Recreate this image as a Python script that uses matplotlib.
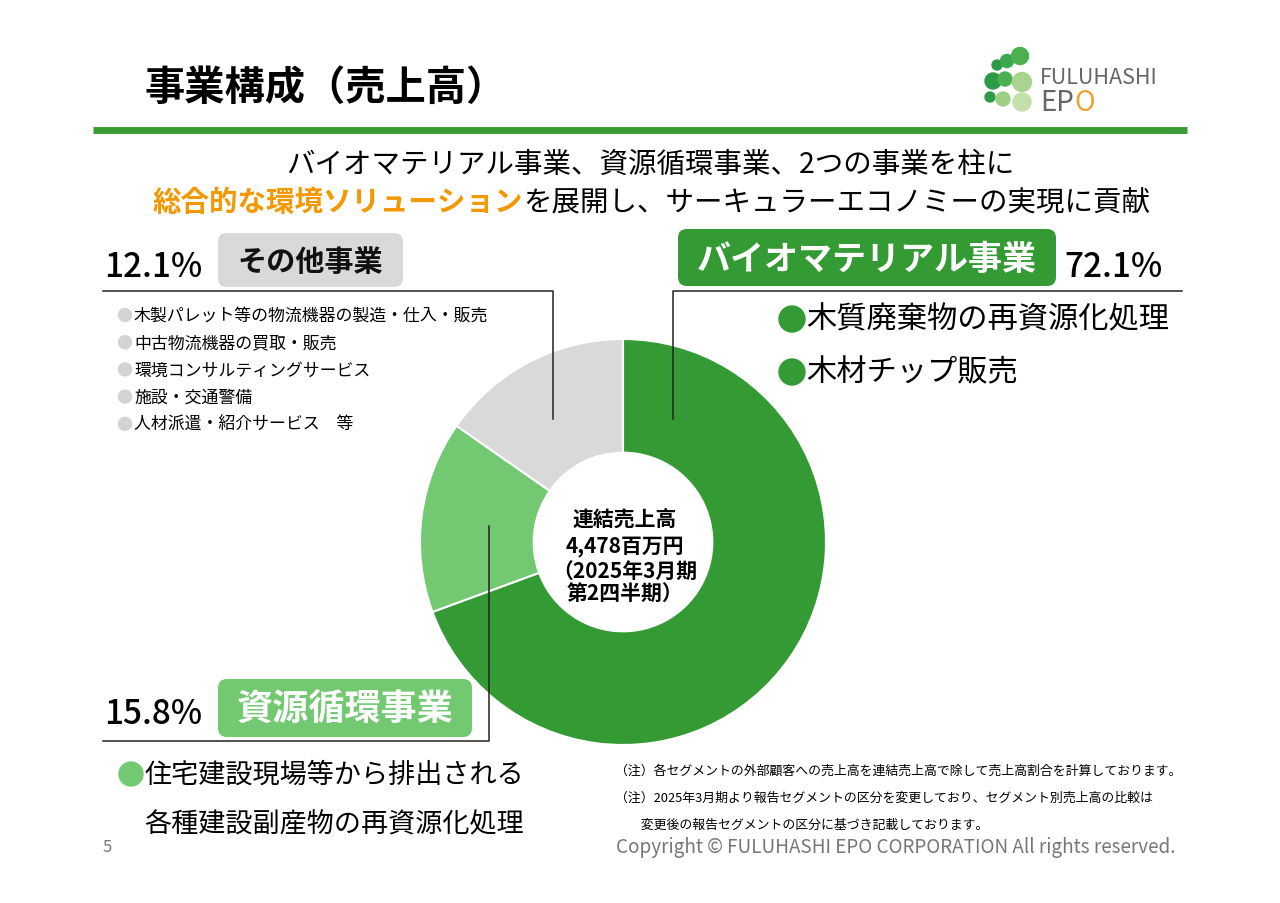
import matplotlib
matplotlib.use('Agg')
import matplotlib.pyplot as plt
from matplotlib.patches import FancyBboxPatch, Circle

plt.rcParams['font.family'] = ['Noto Sans CJK JP', 'DejaVu Sans']

# data
segments = ['バイオマテリアル事業', '資源循環事業', 'その他事業']
share_labels = ['72.1%', '15.8%', '12.1%']
# wedge sizes as drawn in the picture (the drawn ring doesn't match the printed % exactly)
wedge_share = [69.4, 15.3, 15.3]
colors = ['#349a34', '#72c972', '#d9d9d9']

bio_items = ['木質廃棄物の再資源化処理', '木材チップ販売']
recycle_items = ['住宅建設現場等から排出される', '各種建設副産物の再資源化処理']
other_items = ['木製パレット等の物流機器の製造・仕入・販売', '中古物流機器の買取・販売',
               '環境コンサルティングサービス', '施設・交通警備', '人材派遣・紹介サービス　等']
notes = ['（注）各セグメントの外部顧客への売上高を連結売上高で除して売上高割合を計算しております。',
         '（注）2025年3月期より報告セグメントの区分を変更しており、セグメント別売上高の比較は',
         '　　変更後の報告セグメントの区分に基づき記載しております。']
center_lines = ['連結売上高', '4,478百万円', '（2025年3月期', '第2四半期）']

W, H = 1280, 904
fig = plt.figure(figsize=(12.8, 9.04), dpi=100)
fig.patch.set_facecolor('white')

# donut
cx, cy, R = 623, 543, 203
pax = fig.add_axes([(cx - R) / W, (H - cy - R) / H, 2 * R / W, 2 * R / H])
pax.pie(wedge_share, colors=colors, startangle=90, counterclock=False, radius=1,
        wedgeprops=dict(width=0.56, edgecolor='white', linewidth=1.5))
pax.set_xlim(-1, 1)
pax.set_ylim(-1, 1)
pax.set_aspect('equal')
pax.axis('off')

# overlay axes in pixel coords
ax = fig.add_axes([0, 0, 1, 1], zorder=5)
ax.set_xlim(0, W)
ax.set_ylim(H, 0)
ax.axis('off')
ax.patch.set_alpha(0)

# title + rule
ax.text(145, 88, '事業構成（売上高）', fontsize=29, fontweight='bold', va='center', ha='left')
ax.plot([93, 1187], [131, 131], color='#3d9b35', lw=5, solid_capstyle='butt')

# logo
logo = [(997, 66, 5, '#2f9a45'), (1007, 62, 6.5, '#3aa84c'), (1020, 57, 8.5, '#4cb050'),
        (993, 82, 8, '#2f9a45'), (1005, 80, 7, '#4cb050'), (1022, 83, 9.5, '#a8d48e'),
        (990, 98, 5, '#2f9a45'), (1003, 100, 7, '#9fcf85'), (1022, 103, 9, '#c3e0ab')]
for x, y, r, c in logo:
    ax.add_patch(Circle((x, y), r, color=c, zorder=2))
ax.text(1040, 78, 'FULUHASHI', fontsize=15.5, color='#666666', va='center', ha='left')
ep = ax.text(1040, 103, 'EP', fontsize=20, color='#666666', va='center', ha='left')
ax.annotate('O', xycoords=ep, xy=(1, 0.5), fontsize=20, color='#f0a030',
            va='center', ha='left')

# headline
ax.text(650, 165, 'バイオマテリアル事業、資源循環事業、2つの事業を柱に',
        fontsize=20.5, ha='center', va='center')
t1 = ax.text(153, 203, '総合的な環境ソリューション', fontsize=20.5, fontweight='bold',
             color='#f39800', ha='left', va='center')
ax.annotate('を展開し、サーキュラーエコノミーの実現に貢献', xycoords=t1, xy=(1, 0.5),
            fontsize=20.5, ha='left', va='center')

def box(x0, y0, w, h, color, label, fs, tcolor):
    ax.add_patch(FancyBboxPatch((x0, y0), w, h, boxstyle='round,pad=0,rounding_size=9',
                                fc=color, ec='none'))
    ax.text(x0 + w / 2, y0 + h / 2 + 1, label, fontsize=fs, fontweight='bold',
            color=tcolor, ha='center', va='center')

# その他事業
ax.text(104, 268, share_labels[2], fontsize=24, fontweight='medium', ha='left', va='center')
box(218, 234, 185, 54, colors[2], segments[2], 21, '#111111')
ax.plot([103, 553, 553], [292, 292, 420], color='#222222', lw=1.1)
for i, item in enumerate(other_items):
    y = 316 + i * 27.2
    ax.add_patch(Circle((125, y), 6.5, color='#d3d3d3'))
    ax.text(134, y, item, fontsize=12.2, ha='left', va='center')

# バイオマテリアル事業
box(678, 230, 378, 57, colors[0], segments[0], 24.5, 'white')
ax.text(1064, 268, share_labels[0], fontsize=24, fontweight='medium', ha='left', va='center')
ax.plot([1182, 673, 673], [292, 292, 420], color='#222222', lw=1.1)
for i, item in enumerate(bio_items):
    y = 320 + i * 53
    ax.add_patch(Circle((792, y), 13, color=colors[0]))
    ax.text(806, y, item, fontsize=21.8, ha='left', va='center')

# 資源循環事業
ax.text(104, 715, share_labels[1], fontsize=24, fontweight='medium', ha='left', va='center')
box(218, 680, 254, 58, colors[1], segments[1], 26, 'white')
ax.plot([103, 489, 489], [742, 742, 527], color='#222222', lw=1.1)
ax.add_patch(Circle((131, 775), 12, color=colors[1]))
ax.text(144, 775, recycle_items[0], fontsize=19.5, ha='left', va='center')
ax.text(144, 825, recycle_items[1], fontsize=19.5, ha='left', va='center')

# centre label
center_y = [520, 547, 572, 594]
for line, y in zip(center_lines, center_y):
    ax.text(cx + 2, y, line, fontsize=15, fontweight='bold', ha='center', va='center')

# notes + footer
for i, n in enumerate(notes):
    ax.text(615, 771 + i * 27, n, fontsize=9.3, ha='left', va='center')
ax.text(103, 848, '5', fontsize=12, color='#777777', ha='left', va='center')
ax.text(1175, 848, 'Copyright © FULUHASHI EPO CORPORATION All rights reserved.',
        fontsize=13.6, color='#777777', ha='right', va='center')

fig.savefig('out.png', dpi=100, facecolor='white')
